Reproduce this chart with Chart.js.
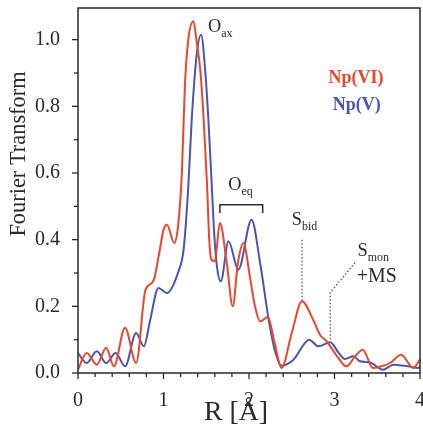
<!DOCTYPE html>
<html>
<head>
<meta charset="utf-8">
<script src="https://cdn.jsdelivr.net/npm/chart.js@4.4.0/dist/chart.umd.min.js"></script>
<style>
  html, body { margin: 0; padding: 0; background: #fff; }
  #wrap { width: 423px; height: 426px; }
</style>
</head>
<body>
<div id="wrap"><canvas id="myChart" width="423" height="426"></canvas></div>
<script>
// Np(VI) curve, R in Angstrom
const npviR = [0, 0.1, 0.22, 0.33, 0.42, 0.55, 0.68, 0.79, 0.88, 0.95, 1.0, 1.04, 1.125, 1.17, 1.215, 1.25, 1.29, 1.35, 1.39, 1.43, 1.47, 1.51, 1.535, 1.56, 1.6, 1.66, 1.74, 1.81, 1.87, 1.935, 2.01, 2.07, 2.13, 2.22, 2.3, 2.38, 2.5, 2.62, 2.75, 2.83, 2.91, 3.03, 3.14, 3.24, 3.33, 3.45, 3.55, 3.65, 3.78, 3.92, 4.0];
const npviFT = [0.01, 0.06, 0.025, 0.076, 0.02, 0.136, 0.03, 0.25, 0.275, 0.36, 0.43, 0.445, 0.39, 0.44, 0.6, 0.86, 1.0, 1.055, 0.99, 0.91, 0.76, 0.56, 0.4, 0.34, 0.335, 0.45, 0.33, 0.2, 0.33, 0.39, 0.29, 0.2, 0.155, 0.168, 0.09, 0.015, 0.12, 0.215, 0.16, 0.115, 0.095, 0.05, 0.02, 0.05, 0.07, 0.015, 0.02, 0.03, 0.055, 0.015, 0.04];

// Np(V) curve
const npvR = [0, 0.1, 0.22, 0.33, 0.44, 0.55, 0.68, 0.77, 0.845, 0.94, 1.04, 1.175, 1.235, 1.29, 1.33, 1.39, 1.44, 1.487, 1.525, 1.565, 1.595, 1.625, 1.67, 1.76, 1.875, 2.03, 2.13, 2.23, 2.3, 2.38, 2.52, 2.705, 2.81, 2.95, 3.05, 3.12, 3.22, 3.3, 3.41, 3.57, 3.69, 3.86, 3.98, 4.0];
const npvFT = [0.06, 0.03, 0.065, 0.03, 0.06, 0.02, 0.12, 0.08, 0.16, 0.255, 0.24, 0.305, 0.37, 0.56, 0.76, 0.96, 1.015, 0.91, 0.76, 0.56, 0.41, 0.32, 0.275, 0.395, 0.31, 0.46, 0.33, 0.16, 0.07, 0.022, 0.04, 0.1, 0.08, 0.092, 0.06, 0.042, 0.05, 0.035, 0.032, 0.01, 0.025, 0.02, 0.015, 0.02];

const seriesNames = ["Np(VI)", "Np(V)"];
const xTicks = [0, 1, 2, 3, 4];
const yTicks = [0, 0.2, 0.4, 0.6, 0.8, 1.0];

const RED = "#e8472e";
const BLUE = "#4a55b0";
const INK = "#2a2a2a";
const SERIF = "'Liberation Serif', 'Times New Roman', 'DejaVu Serif', serif";

// pick a font size so the text comes out about as wide as in the original
function fit(text, weight, width) {
  const m = document.createElement("canvas").getContext("2d");
  m.font = weight + " 100px " + SERIF;
  return Math.round(1000 * width / m.measureText(text).width) / 10;
}
const tickSize = fit("1.0", "", 25);
const titleSize = fit("Fourier Transform", "", 165);
const xTitleSize = fit("R [Å]", "", 64);
const legendSize = fit("Np(VI)", "bold", 55);
const msSize = fit("+MS", "", 40);
const letterSize = msSize * 0.92;
const subSize = msSize * 0.6;

function toPoints(xs, ys) {
  return xs.map((x, i) => ({ x: x, y: ys[i] }));
}

// text labels, anchored in data units
const labels = [
  { text: "O", sub: "ax", x: 1.52, y: 1.024 },
  { text: "O", sub: "eq", x: 1.757, y: 0.55 },
  { text: "S", sub: "bid", x: 2.5, y: 0.445 },
  { text: "S", sub: "mon", x: 3.27, y: 0.35 },
  { text: "+MS", sub: "", x: 3.26, y: 0.274 }
];

const decor = {
  id: "decor",
  afterDraw(c) {
    const ctx = c.ctx;
    const xs = c.scales.x, ys = c.scales.y;
    const a = c.chartArea;
    const px = v => xs.getPixelForValue(v);
    const py = v => ys.getPixelForValue(v);
    ctx.save();

    // frame
    ctx.strokeStyle = INK;
    ctx.lineWidth = 1.5;
    ctx.strokeRect(a.left, a.top, a.right - a.left, a.bottom - a.top);

    // ticks
    ctx.lineWidth = 1.3;
    for (let i = 0; i <= 20; i++) {
      const x = px(i * 0.2);
      const len = i % 5 === 0 ? 6 : 4;
      ctx.beginPath(); ctx.moveTo(x, a.bottom); ctx.lineTo(x, a.bottom + len); ctx.stroke();
    }
    for (let i = 0; i <= 10; i++) {
      const y = py(i * 0.1);
      const len = i % 2 === 0 ? 6 : 4;
      ctx.beginPath(); ctx.moveTo(a.left, y); ctx.lineTo(a.left - len, y); ctx.stroke();
    }

    // axis titles
    ctx.fillStyle = INK;
    ctx.textAlign = "center";
    ctx.textBaseline = "middle";
    ctx.font = xTitleSize + "px " + SERIF;
    ctx.fillText("R [Å]", 236, 413);
    ctx.save();
    ctx.translate(19, 154);
    ctx.rotate(-Math.PI / 2);
    ctx.font = titleSize + "px " + SERIF;
    ctx.fillText("Fourier Transform", 0, 0);
    ctx.restore();

    // legend text
    ctx.textAlign = "left";
    ctx.textBaseline = "alphabetic";
    ctx.font = "bold " + legendSize + "px " + SERIF;
    ctx.fillStyle = RED;
    ctx.fillText(seriesNames[0], px(2.93), py(0.871));
    ctx.fillStyle = BLUE;
    ctx.fillText(seriesNames[1], px(2.98), py(0.79));

    // peak labels
    ctx.fillStyle = INK;
    labels.forEach(l => {
      ctx.font = (l.sub ? letterSize : msSize) + "px " + SERIF;
      const x = px(l.x), y = py(l.y);
      ctx.fillText(l.text, x, y);
      if (l.sub) {
        const w = ctx.measureText(l.text).width;
        ctx.font = subSize + "px " + SERIF;
        ctx.fillText(l.sub, x + w, y + 5);
      }
    });

    // O_eq bracket
    ctx.strokeStyle = INK;
    ctx.lineWidth = 1.5;
    ctx.beginPath();
    ctx.moveTo(px(1.66), py(0.48));
    ctx.lineTo(px(1.66), py(0.505));
    ctx.lineTo(px(2.16), py(0.505));
    ctx.lineTo(px(2.16), py(0.48));
    ctx.stroke();

    // dotted leaders
    ctx.strokeStyle = "#555";
    ctx.setLineDash([1.5, 2]);
    ctx.lineWidth = 1.3;
    ctx.beginPath();
    ctx.moveTo(px(2.62), py(0.40));
    ctx.lineTo(px(2.62), py(0.215));
    ctx.stroke();
    ctx.beginPath();
    ctx.moveTo(px(3.24), py(0.331));
    ctx.lineTo(px(2.95), py(0.241));
    ctx.lineTo(px(2.95), py(0.10));
    ctx.stroke();

    ctx.restore();
  }
};

new Chart(document.getElementById("myChart").getContext("2d"), {
  type: "line",
  data: {
    datasets: [{
      label: seriesNames[0],
      data: toPoints(npviR, npviFT),
      borderColor: RED,
      borderWidth: 2,
      pointRadius: 0,
      cubicInterpolationMode: "monotone",
      fill: false
    }, {
      label: seriesNames[1],
      data: toPoints(npvR, npvFT),
      borderColor: BLUE,
      borderWidth: 2,
      pointRadius: 0,
      cubicInterpolationMode: "monotone",
      fill: false
    }]
  },
  options: {
    responsive: false,
    animation: false,
    layout: { padding: { top: 8, right: 3, left: 0, bottom: 0 } },
    plugins: { legend: { display: false }, tooltip: { enabled: false } },
    scales: {
      x: {
        type: "linear",
        min: 0,
        max: 4,
        afterFit: s => { s.height = 53; s.paddingLeft = 0; s.paddingRight = 0; },
        afterBuildTicks: s => { s.ticks = xTicks.map(v => ({ value: v })); },
        grid: { display: false },
        border: { display: false },
        ticks: {
          padding: 8,
          color: INK,
          font: { family: SERIF, size: tickSize },
          maxRotation: 0,
          callback: v => String(v)
        }
      },
      y: {
        min: 0,
        max: 1.095,
        afterFit: s => { s.width = 78; s.paddingTop = 0; s.paddingBottom = 0; },
        afterBuildTicks: s => { s.ticks = yTicks.map(v => ({ value: v })); },
        grid: { display: false },
        border: { display: false },
        ticks: {
          padding: 10,
          color: INK,
          font: { family: SERIF, size: tickSize },
          callback: v => v.toFixed(1)
        }
      }
    }
  },
  plugins: [decor]
});
</script>
</body>
</html>
